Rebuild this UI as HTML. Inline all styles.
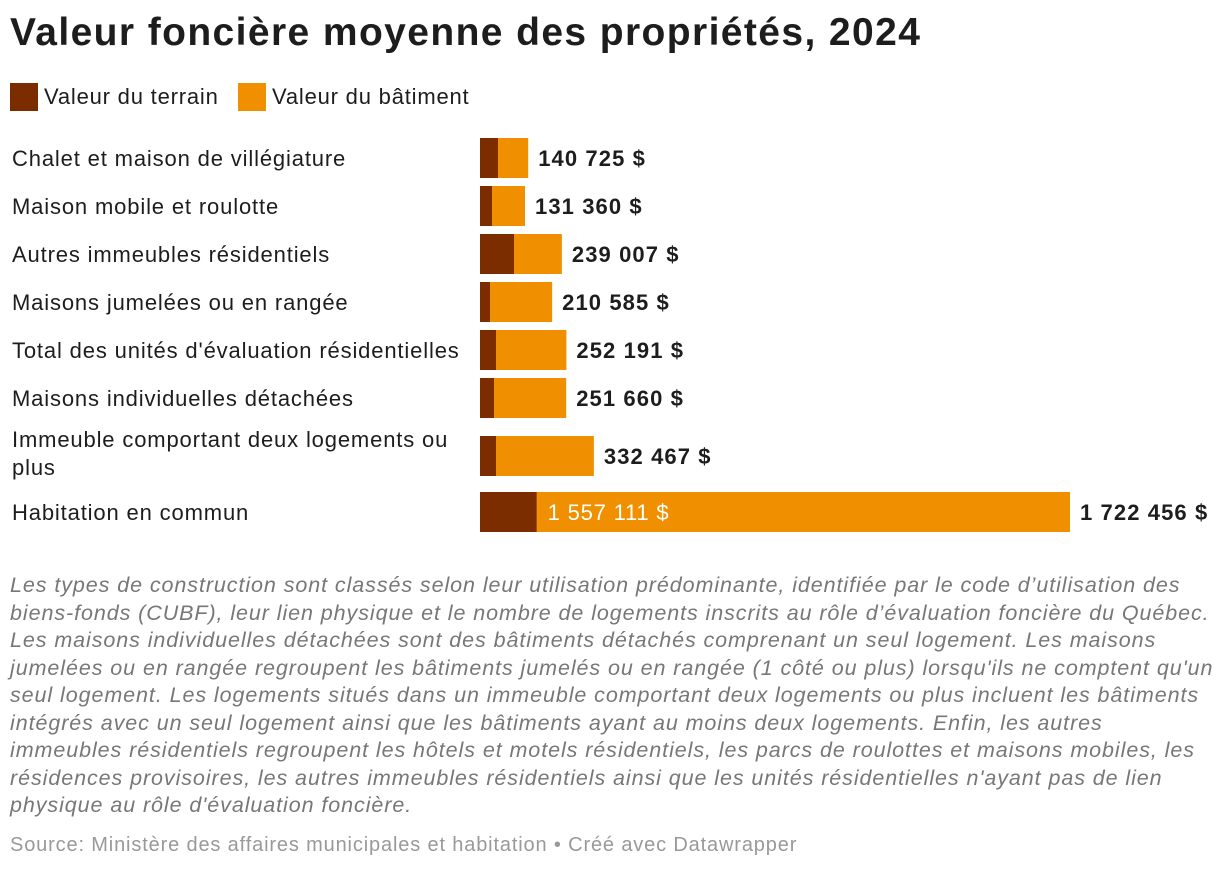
<!DOCTYPE html>
<html><head><meta charset="utf-8"><style>
body{margin:0;width:1220px;height:870px;background:#fff;font-family:"Liberation Sans",sans-serif;color:#1d1d1d;position:relative;overflow:hidden}
.t{position:absolute;left:10px;top:11px;font-size:39px;font-weight:bold;letter-spacing:1.4px}
.leg{position:absolute;top:83px;font-size:22px;display:flex;align-items:center;letter-spacing:0.8px}
.sw{width:28px;height:28px;margin-right:6px}
.lab{position:absolute;left:12px;font-size:22px;line-height:28px;width:460px;letter-spacing:0.85px;white-space:nowrap}
.lab.m{white-space:normal}
.note{position:absolute;left:10px;top:572px;width:1210px;font-size:21.5px;line-height:27.5px;color:#777;font-style:italic;letter-spacing:0.92px;white-space:nowrap}
.src{position:absolute;left:10px;top:834px;font-size:20px;color:#999;letter-spacing:0.85px}
</style></head><body>
<div class="t">Valeur foncière moyenne des propriétés, 2024</div>
<div class="leg" style="left:10px"><div class="sw" style="background:#7b2d00"></div>Valeur du terrain</div>
<div class="leg" style="left:238px"><div class="sw" style="background:#f09000"></div>Valeur du bâtiment</div>
<svg id="c" width="1220" height="560" style="position:absolute;left:0;top:0"></svg>
<div id="labs"></div>
<div class="note">Les types de construction sont classés selon leur utilisation prédominante, identifiée par le code d’utilisation des<br>biens-fonds (CUBF), leur lien physique et le nombre de logements inscrits au rôle d’évaluation foncière du Québec.<br>Les maisons individuelles détachées sont des bâtiments détachés comprenant un seul logement. Les maisons<br>jumelées ou en rangée regroupent les bâtiments jumelés ou en rangée (1 côté ou plus) lorsqu'ils ne comptent qu'un<br>seul logement. Les logements situés dans un immeuble comportant deux logements ou plus incluent les bâtiments<br>intégrés avec un seul logement ainsi que les bâtiments ayant au moins deux logements. Enfin, les autres<br>immeubles résidentiels regroupent les hôtels et motels résidentiels, les parcs de roulottes et maisons mobiles, les<br>résidences provisoires, les autres immeubles résidentiels ainsi que les unités résidentielles n'ayant pas de lien<br>physique au rôle d'évaluation foncière.</div>
<div class="src">Source: Ministère des affaires municipales et habitation • Créé avec Datawrapper</div>
<script>
const categories=["Chalet et maison de villégiature","Maison mobile et roulotte","Autres immeubles résidentiels","Maisons jumelées ou en rangée","Total des unités d'évaluation résidentielles","Maisons individuelles détachées","Immeuble comportant deux logements ou plus","Habitation en commun"];
const landValues=[52500,35000,99300,29200,46700,40900,46700,165345];
const totalValues=[140725,131360,239007,210585,252191,251660,332467,1722456];
const totalLabels=["140 725 $","131 360 $","239 007 $","210 585 $","252 191 $","251 660 $","332 467 $","1 722 456 $"];
const insideLabels=["","","","","","","","1 557 111 $"];
const rowTops=[138,186,234,282,330,378,436,492];
const x0=480,xMax=1070,vMax=1722456;
const xs=v=>x0+(xMax-x0)*v/vMax;
const svg=document.getElementById('c'),NS="http://www.w3.org/2000/svg",labs=document.getElementById('labs');
categories.forEach((cat,i)=>{
 const y=rowTops[i],h=40;
 const b=document.createElementNS(NS,'rect');
 b.setAttribute('x',x0);b.setAttribute('y',y);b.setAttribute('width',xs(totalValues[i])-x0);b.setAttribute('height',h);b.setAttribute('fill','#f09000');
 
 
 svg.appendChild(b);
 const l=document.createElementNS(NS,'rect');
 l.setAttribute('x',x0);l.setAttribute('y',y);l.setAttribute('width',xs(landValues[i])-x0);l.setAttribute('height',h);l.setAttribute('fill','#7b2d00');
 
 
 svg.appendChild(l);
 const t=document.createElementNS(NS,'text');
 t.setAttribute('x',xs(totalValues[i])+10);t.setAttribute('y',y+28);t.setAttribute('font-size','22');t.setAttribute('font-weight','bold');t.setAttribute('fill','#1d1d1d');t.setAttribute('letter-spacing','1.1');
 t.textContent=totalLabels[i];
 
 
 svg.appendChild(t);
 if(insideLabels[i]){
  const u=document.createElementNS(NS,'text');
  u.setAttribute('x',xs(landValues[i])+11);u.setAttribute('y',y+28);u.setAttribute('font-size','22');u.setAttribute('fill','#fff');u.setAttribute('letter-spacing','0.8');
  u.textContent=insideLabels[i];
  
  
  svg.appendChild(u);
 }
 const d=document.createElement('div');
 const multi=(i===6);
 d.className=multi?'lab m':'lab';
 d.textContent=cat;
 d.style.top=(multi? y-10 : y+7)+'px';
 
 
 labs.appendChild(d);
});
</script>
</body></html>
